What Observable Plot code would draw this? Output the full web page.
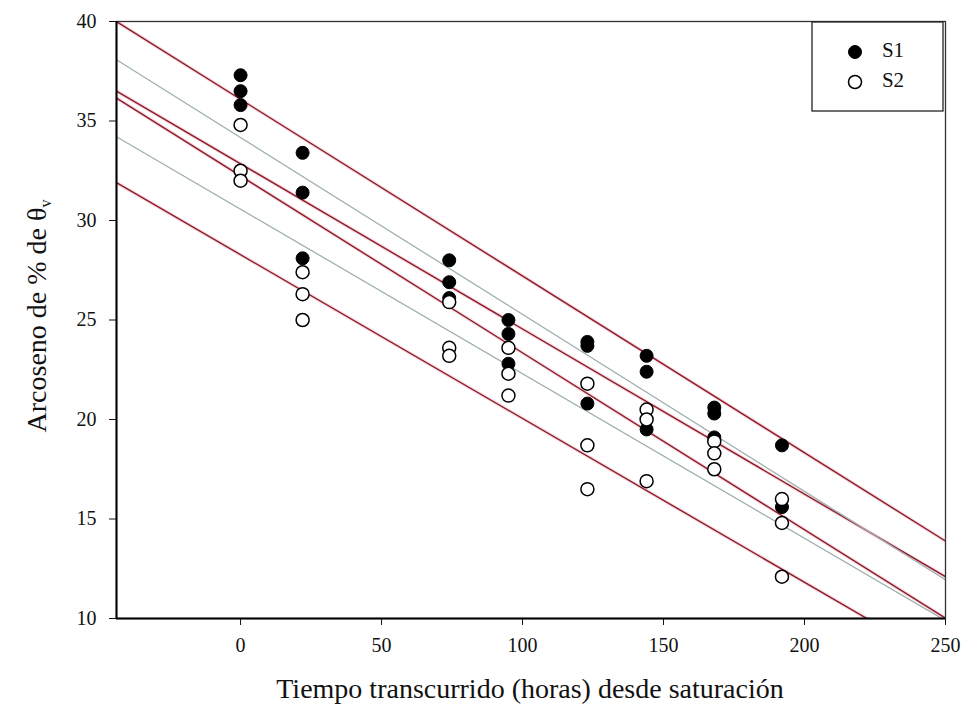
<!DOCTYPE html>
<html>
<head>
<meta charset="utf-8">
<script src="https://cdn.jsdelivr.net/npm/d3@7"></script>
<script src="https://cdn.jsdelivr.net/npm/@observablehq/plot@0.6"></script>
<style>
  html, body { margin: 0; padding: 0; background: white; }
  #chart { position: relative; width: 968px; height: 719px; }
</style>
</head>
<body>
<div id="chart"></div>
<script>
// ---- Data ----
const times = [0, 22, 74, 95, 123, 144, 168, 192];
const seriesNames = ["S1", "S2"];
const s1Values = [
  [37.3, 36.5, 35.8],
  [33.4, 31.4, 28.1],
  [28.0, 26.9, 26.1],
  [25.0, 24.3, 22.8],
  [23.9, 23.7, 20.8],
  [23.2, 22.4, 19.5],
  [20.6, 20.3, 19.1],
  [18.7, 15.6]
];
const s2Values = [
  [34.8, 32.5, 32.0],
  [27.4, 26.3, 25.0],
  [25.9, 23.6, 23.2],
  [23.6, 22.3, 21.2],
  [21.8, 18.7, 16.5],
  [20.5, 20.0, 16.9],
  [18.9, 18.3, 17.5],
  [16.0, 14.8, 12.1]
];
// straight lines: fitted regressions (grey) and limits (red)
const lineLabels = ["S1 ajuste", "S1 límite superior", "S1 límite inferior", "S2 ajuste", "S2 límite superior", "S2 límite inferior"];
const lineKinds = ["fit", "band", "band", "fit", "band", "band"];
const lineIntercepts = [34.17, 36.09, 32.24, 30.57, 32.85, 28.28];
const lineSlopes = [-0.0889, -0.0888, -0.0889, -0.0827, -0.0830, -0.0823];
const xDomain = [-44, 250];
const yDomain = [10, 40];
const xTicks = [0, 50, 100, 150, 200, 250];
const yTicks = [10, 15, 20, 25, 30, 35, 40];
const xTitle = "Tiempo transcurrido (horas) desde saturación";
const yTitleMain = "Arcoseno de % de θ";
const yTitleSub = "v";

// ---- Build tables ----
const toPoints = (vals, name) => vals.flatMap((arr, i) => arr.map(v => ({t: times[i], v, serie: name})));
const s1Data = toPoints(s1Values, seriesNames[0]);
const s2Data = toPoints(s2Values, seriesNames[1]);
const lineData = lineLabels.flatMap((label, i) =>
  xDomain.map(x => ({label, kind: lineKinds[i], x, y: lineIntercepts[i] + lineSlopes[i] * x})));

const serif = "'Liberation Serif', 'Times New Roman', serif";
const RED = "#8e1a2c";
const GREY = "#9fb0b0";

const plot = Plot.plot({
  width: 968,
  height: 719,
  marginLeft: 116,
  marginRight: 23,
  marginTop: 21,
  marginBottom: 101,
  style: {fontFamily: serif, fontSize: "20px", color: "#111", background: "white"},
  x: {domain: xDomain, ticks: xTicks, tickSize: 7, tickPadding: 12, label: null},
  y: {domain: yDomain, ticks: yTicks, tickSize: 7, tickPadding: 13, label: null},
  marks: [
    Plot.line(lineData.filter(d => d.kind === "band"), {x: "x", y: "y", z: "label", stroke: "#f0b8c0", strokeWidth: 3.5, strokeOpacity: 0.5, clip: true}),
    Plot.line(lineData.filter(d => d.kind === "band"), {x: "x", y: "y", z: "label", stroke: RED, strokeWidth: 1.4, clip: true}),
    Plot.line(lineData.filter(d => d.kind === "fit"), {x: "x", y: "y", z: "label", stroke: GREY, strokeWidth: 1.3, clip: true}),
    Plot.frame({stroke: "#333", strokeWidth: 1.3}),
    Plot.ruleX([xDomain[0]], {stroke: "#000", strokeWidth: 2}),
    Plot.ruleY([yDomain[0]], {stroke: "#000", strokeWidth: 2}),
    Plot.dot(s1Data, {x: "t", y: "v", r: 6.5, fill: "#000", stroke: "#000", strokeWidth: 1}),
    Plot.dot(s2Data, {x: "t", y: "v", r: 6.5, fill: "#fff", stroke: "#000", strokeWidth: 1.5})
  ]
});

document.getElementById("chart").appendChild(plot);

// ---- Axis titles and legend ----
const svg = d3.select(plot);
svg.append("text")
  .attr("x", 530).attr("y", 692)
  .attr("text-anchor", "middle").attr("dominant-baseline", "middle")
  .style("font-family", serif).style("font-size", "28px").attr("fill", "#111")
  .text(xTitle);

const yt = svg.append("text")
  .attr("transform", "translate(40,316) rotate(-90)")
  .attr("text-anchor", "middle").attr("dominant-baseline", "middle")
  .style("font-family", serif).style("font-size", "28px").attr("fill", "#111");
yt.append("tspan").text(yTitleMain);
yt.append("tspan").attr("dy", 7).style("font-size", "16px").text(yTitleSub);

const lg = svg.append("g");
lg.append("rect").attr("x", 812).attr("y", 22).attr("width", 131).attr("height", 89)
  .attr("fill", "#fff").attr("stroke", "#222").attr("stroke-width", 1.3);
const styles = [{fill: "#000", sw: 1}, {fill: "#fff", sw: 1.5}];
seriesNames.forEach((name, i) => {
  const cy = 52 + i * 30;
  lg.append("circle").attr("cx", 855).attr("cy", cy).attr("r", 6.5)
    .attr("fill", styles[i].fill).attr("stroke", "#000").attr("stroke-width", styles[i].sw);
  lg.append("text").attr("x", 893).attr("y", cy).attr("dominant-baseline", "middle")
    .style("font-family", serif).style("font-size", "21px").attr("fill", "#111").text(name);
});
</script>
</body>
</html>
